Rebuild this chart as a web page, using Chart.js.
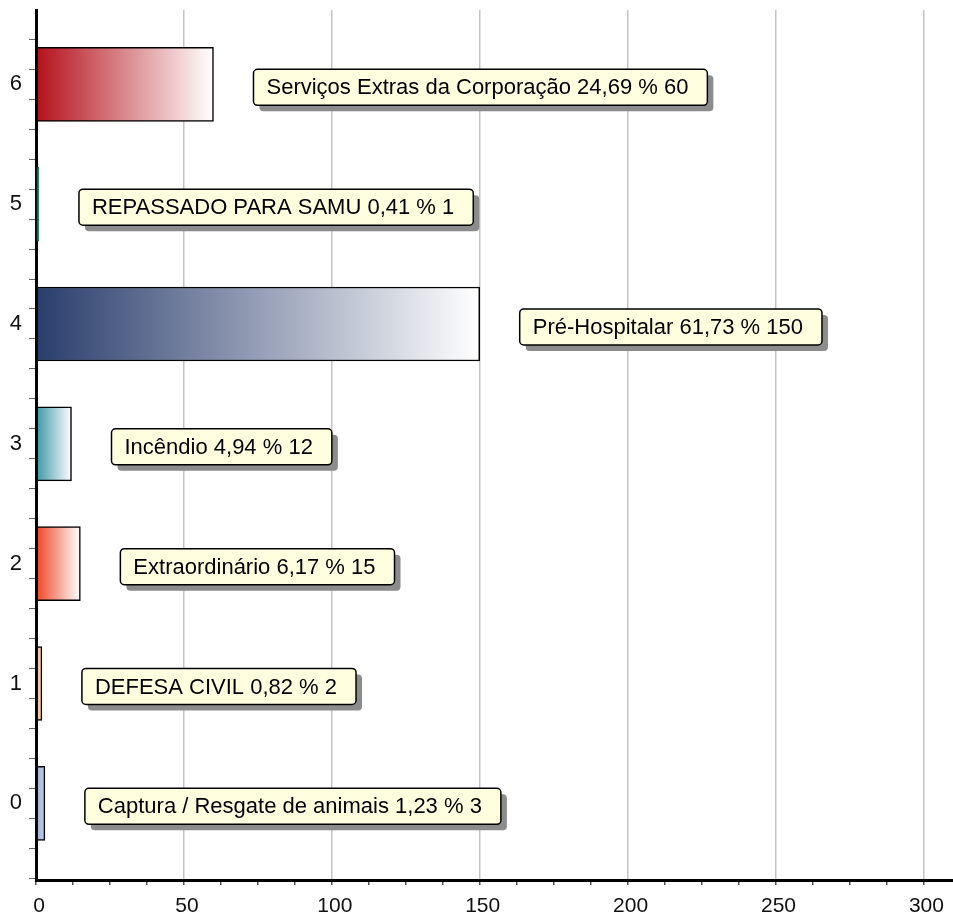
<!DOCTYPE html>
<html>
<head>
<meta charset="utf-8">
<script src="https://cdn.jsdelivr.net/npm/chart.js@4/dist/chart.umd.min.js"></script>
<style>
  html, body { margin: 0; padding: 0; background: #fff; }
  #wrap { width: 953px; height: 918px; }
</style>
</head>
<body>
<div id="wrap"><canvas id="barChart"></canvas></div>
<script>
// categories (bottom to top)
const categories = ["Captura / Resgate de animais", "DEFESA CIVIL", "Extraordinário", "Incêndio",
  "Pré-Hospitalar", "REPASSADO PARA SAMU", "Serviços Extras da Corporação"];
const positions = [0, 1, 2, 3, 4, 5, 6];
const counts = [3, 2, 15, 12, 150, 1, 60];
const percents = ["1,23", "0,82", "6,17", "4,94", "61,73", "0,41", "24,69"];
const barColors = ["#9fb5d8", "#f6c28e", "#ee4524", "#3a96a6", "#2a3d6c", "#1b8a6c", "#b4111c"];

const FONT = "Arial, 'Liberation Sans', sans-serif";

function barGradient(ctx) {
  const chart = ctx.chart;
  const area = chart.chartArea;
  if (!area) return barColors[ctx.dataIndex];
  const xs = chart.scales.x;
  const x0 = xs.getPixelForValue(0);
  const x1 = xs.getPixelForValue(counts[ctx.dataIndex]);
  // narrow bars keep most of their colour
  const g = chart.ctx.createLinearGradient(x0, 0, Math.max(x1, x0 + 30), 0);
  g.addColorStop(0, barColors[ctx.dataIndex]);
  g.addColorStop(1, "#ffffff");
  return g;
}

// label boxes next to each bar
const boxLabels = {
  id: "boxLabels",
  afterDatasetsDraw(chart) {
    const c = chart.ctx;
    const meta = chart.getDatasetMeta(0);
    c.save();
    c.font = "22px " + FONT;
    c.textBaseline = "middle";
    meta.data.forEach((bar, i) => {
      const txt = categories[i] + " " + percents[i] + " % " + counts[i];
      const w = c.measureText(txt).width + 32;
      const h = 36;
      const x = bar.x + 40;
      const cy = bar.y + 3;
      const y = cy - h / 2;
      c.fillStyle = "#8c8c8c";
      c.beginPath();
      c.roundRect(x + 6, y + 6, w, h, 4);
      c.fill();
      c.fillStyle = "#ffffe0";
      c.strokeStyle = "#000";
      c.lineWidth = 1.5;
      c.beginPath();
      c.roundRect(x, y, w, h, 4);
      c.fill();
      c.stroke();
      c.fillStyle = "#000";
      c.fillText(txt, x + 13, cy + 1);
    });
    c.restore();
  }
};

new Chart(document.getElementById("barChart"), {
  type: "bar",
  data: {
    datasets: [{
      data: positions.map((p, i) => ({ x: counts[i], y: p })),
      backgroundColor: barGradient,
      borderColor: ["#000", "#000", "#000", "#000", "#000", "#0d5e48", "#000"],
      borderWidth: 1.5,
      borderSkipped: false,
      barThickness: 74
    }]
  },
  options: {
    indexAxis: "y",
    responsive: true,
    maintainAspectRatio: false,
    animation: false,
    layout: { padding: { top: 10, right: 0, left: 0, bottom: 0 } },
    plugins: { legend: { display: false }, tooltip: { enabled: false } },
    scales: {
      x: {
        type: "linear",
        min: 0,
        max: 310,
        border: { color: "#000", width: 3 },
        grid: {
          color: c => (c.tick && c.tick.value % 50 === 0 && c.tick.value > 0) ? "#c4c4c4" : "rgba(0,0,0,0)",
          lineWidth: 1.5,
          tickColor: "#555",
          tickLength: 5
        },
        ticks: {
          stepSize: 12.5,
          includeBounds: false,
          autoSkip: false,
          maxRotation: 0,
          padding: 9,
          labelOffset: 3,
          color: "#111",
          font: { family: FONT, size: 21 },
          callback: v => (v % 50 === 0 ? v : "")
        },
        afterFit: s => { s.height = 38; s.paddingLeft = 0; s.paddingRight = 0; }
      },
      y: {
        type: "linear",
        min: -0.64,
        max: 6.62,
        offset: false,
        border: { color: "#000", width: 3 },
        grid: { drawOnChartArea: false, tickColor: "#666", tickLength: 7 },
        ticks: {
          stepSize: 0.25,
          includeBounds: false,
          autoSkip: false,
          padding: 7,
          color: "#111",
          font: { family: FONT, size: 22 },
          callback: v => (Number.isInteger(v) ? v : "")
        },
        afterFit: s => { s.width = 36; s.paddingTop = 0; s.paddingBottom = 0; }
      }
    }
  },
  plugins: [boxLabels]
});
</script>
</body>
</html>
